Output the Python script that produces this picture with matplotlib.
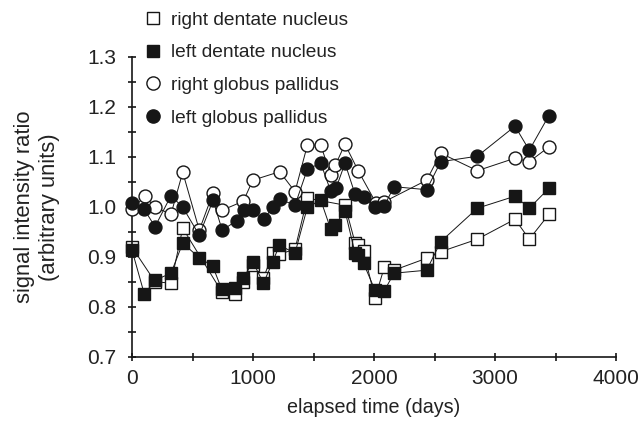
import numpy as np
import matplotlib
matplotlib.use('Agg')
import matplotlib.pyplot as plt
from matplotlib.lines import Line2D
from matplotlib.ticker import MultipleLocator, FormatStrFormatter

plt.rcParams['font.family'] = ['Liberation Sans', 'DejaVu Sans']

# right dentate nucleus (open squares)
rdn_days = [0, 190, 322, 419, 741, 851, 920, 998, 1086, 1163, 1218, 1347, 1449,
            1760, 1843, 1871, 1913, 2008, 2085, 2165, 2435, 2551, 2854, 3165, 3283, 3446]
rdn_val = [0.919, 0.850, 0.847, 0.957, 0.830, 0.825, 0.850, 0.883, 0.857, 0.907, 0.905,
           0.915, 1.017, 1.003, 0.928, 0.923, 0.911, 0.817, 0.879, 0.873, 0.897, 0.910,
           0.935, 0.975, 0.935, 0.985]

# left dentate nucleus (filled squares)
ldn_days = [0, 102, 190, 322, 419, 556, 667, 741, 851, 920, 998, 1086, 1163, 1218, 1347,
            1449, 1560, 1642, 1678, 1760, 1843, 1871, 1913, 2008, 2085, 2165, 2435, 2551,
            2854, 3165, 3283, 3446]
ldn_val = [0.913, 0.825, 0.853, 0.867, 0.927, 0.898, 0.881, 0.835, 0.837, 0.857, 0.890,
           0.847, 0.890, 0.923, 0.907, 0.999, 1.013, 0.955, 0.963, 0.992, 0.907, 0.903,
           0.887, 0.833, 0.832, 0.867, 0.873, 0.930, 0.997, 1.021, 0.997, 1.037]

# right globus pallidus (open circles)
rgp_days = [0, 107, 190, 322, 419, 556, 670, 745, 920, 998, 1220, 1347, 1449, 1560,
            1642, 1680, 1760, 1871, 2017, 2085, 2435, 2551, 2854, 3165, 3283, 3442]
rgp_val = [0.995, 1.021, 0.999, 0.985, 1.069, 0.953, 1.028, 0.993, 1.011, 1.053, 1.070,
           1.030, 1.123, 1.123, 1.063, 1.083, 1.125, 1.071, 1.007, 1.010, 1.053, 1.107,
           1.072, 1.097, 1.090, 1.119]

# left globus pallidus (filled circles)
lgp_days = [0, 100, 190, 322, 419, 556, 670, 745, 865, 925, 998, 1090, 1163, 1220, 1347,
            1449, 1560, 1642, 1686, 1760, 1843, 1913, 2008, 2085, 2165, 2435, 2551, 2854,
            3165, 3283, 3442]
lgp_val = [1.007, 0.995, 0.960, 1.022, 0.999, 0.943, 1.013, 0.953, 0.972, 0.993, 0.993,
           0.975, 0.999, 1.015, 1.003, 1.075, 1.087, 1.031, 1.037, 1.087, 1.025, 1.019,
           1.0, 1.002, 1.040, 1.034, 1.090, 1.101, 1.161, 1.113, 1.181]

labels = ['right dentate nucleus', 'left dentate nucleus',
          'right globus pallidus', 'left globus pallidus']

fig = plt.figure(figsize=(6.44, 4.25), dpi=100)
ax = fig.add_axes([0.205, 0.1607, 0.7516, 0.7059])

dark = '#161616'
txt = '#222222'
ms = 9.3
kw = dict(color=dark, lw=0.7, mec=dark, mew=1.0, ms=ms, clip_on=False)
ax.plot(rdn_days, rdn_val, marker='s', mfc='white', zorder=2, **kw)
ax.plot(ldn_days, ldn_val, marker='s', mfc=dark, zorder=3, **kw)
ax.plot(rgp_days, rgp_val, marker='o', mfc='white', zorder=4, **kw)
ax.plot(lgp_days, lgp_val, marker='o', mfc=dark, zorder=5, **kw)

ax.set_xlim(0, 4000)
ax.set_ylim(0.7, 1.3)
ax.xaxis.set_major_locator(MultipleLocator(1000))
ax.xaxis.set_minor_locator(MultipleLocator(500))
ax.yaxis.set_major_locator(MultipleLocator(0.1))
ax.yaxis.set_minor_locator(MultipleLocator(0.05))
ax.yaxis.set_major_formatter(FormatStrFormatter('%.1f'))
for s in ['top', 'right']:
    ax.spines[s].set_visible(False)
for s in ['left', 'bottom']:
    ax.spines[s].set_linewidth(1.2)
    ax.spines[s].set_color(dark)
ax.tick_params(which='both', direction='inout', length=6, width=1.2, color=dark,
               labelsize=15, labelcolor=txt)
ax.tick_params(axis='y', pad=8)
ax.tick_params(axis='x', pad=6)

ax.set_xlabel('elapsed time (days)', fontsize=14.2, color=txt, labelpad=7)
ax.set_ylabel('signal intensity ratio\n(arbitrary units)', fontsize=15.8,
              color=txt, labelpad=20, linespacing=1.25)

handles = [
    Line2D([], [], ls='none', marker='s', mfc='white', mec=dark, mew=1.0, ms=9),
    Line2D([], [], ls='none', marker='s', mfc=dark, mec=dark, mew=1.0, ms=9),
    Line2D([], [], ls='none', marker='o', mfc='white', mec=dark, mew=1.0, ms=9.5),
    Line2D([], [], ls='none', marker='o', mfc=dark, mec=dark, mew=1.0, ms=9.5),
]
leg = fig.legend(handles, labels, loc='upper left', bbox_to_anchor=(0.219, 0.982),
                 frameon=False, fontsize=13.8, handlelength=0.8, handletextpad=0.55,
                 labelspacing=0.79, borderaxespad=0, borderpad=0.2)
for t in leg.get_texts():
    t.set_color(txt)

fig.savefig('out.png', dpi=100)
